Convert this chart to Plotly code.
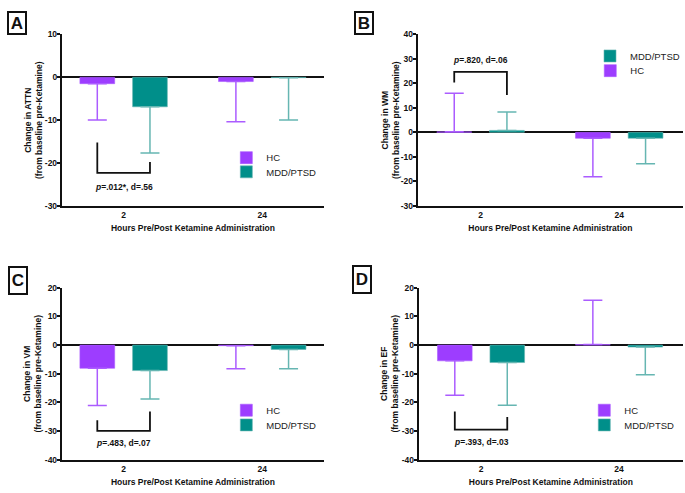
import plotly.graph_objects as go

# ---------------- data ----------------
hours = ["2", "24"]
groups = ["HC", "MDD/PTSD"]
panel_letters = ["A", "B", "C", "D"]
measures = ["ATTN", "WM", "VM", "EF"]

attn_hc = [-1.5, -1.0]
attn_mdd = [-6.9, -0.1]
attn_hc_err = [8.5, 9.4]
attn_mdd_err = [10.8, 9.9]

wm_hc = [0.2, -2.4]
wm_mdd = [0.8, -2.4]
wm_hc_err = [15.8, 15.7]
wm_mdd_err = [7.5, 10.4]

vm_hc = [-8.1, -0.2]
vm_mdd = [-8.9, -1.5]
vm_hc_err = [13.0, 8.1]
vm_mdd_err = [9.9, 6.8]

ef_hc = [-5.5, 0.2]
ef_mdd = [-6.1, -0.7]
ef_hc_err = [12.0, 15.5]
ef_mdd_err = [14.9, 9.7]

y_ranges = [[-30, 10], [-30, 40], [-40, 20], [-40, 20]]

stat_labels = ["<i>p</i>=.012*, d=.56", "<i>p</i>=.820, d=.06",
               "<i>p</i>=.483, d=.07", "<i>p</i>=.393, d=.03"]
# bracket: left-end y, right-end y, bar y, label y
brackets = [[-15.2, -19.8, -22.3, -25.5],
            [20.4, 15.3, 24.7, 29.6],
            [-26.3, -23.2, -30.0, -34.2],
            [-23.2, -25.1, -29.5, -33.8]]

# ---------------- style ----------------
HC_COL = "#9d3dff"
MDD_COL = "#008f8a"
HC_ERR = "#ab5cff"
MDD_ERR = "#66b6b2"
FONT = "Liberation Sans, Arial, sans-serif"
W, H = 685, 493

x_domains = [[62 / W, 325 / W], [419 / W, 1.0], [62 / W, 325 / W], [420 / W, 1.0]]
y_top = [1 - 205 / H, 1 - 30 / H]
y_bot = [1 - 464 / H, 1 - 288.7 / H]
y_domains = [y_top, y_top, y_bot, y_bot]
x_ranges = [[-0.446, 1.446], [-0.453, 1.46], [-0.446, 1.446], [-0.451, 1.463]]
ytitle_x = [33, 391, 33, 391]  # pixel x-centre of the two-line y titles
OFF = 0.19  # half distance between grouped bar centres (bargap 0.24)

panel_data = [
    (attn_hc, attn_mdd, attn_hc_err, attn_mdd_err),
    (wm_hc, wm_mdd, wm_hc_err, wm_mdd_err),
    (vm_hc, vm_mdd, vm_hc_err, vm_mdd_err),
    (ef_hc, ef_mdd, ef_hc_err, ef_mdd_err),
]

# legend item pixel positions (icon left, item centre y) per panel, per group
legend_pos = [
    {"HC": (244, 154.5), "MDD/PTSD": (244, 169)},
    {"HC": (609, 65.7), "MDD/PTSD": (609, 50.7)},
    {"HC": (244, 412.3), "MDD/PTSD": (244, 427.3)},
    {"HC": (603, 412.3), "MDD/PTSD": (603, 427.3)},
]

fig = go.Figure()
layout = {}
annotations = []
shapes = []
legend_n = 0

for i, (hc, mdd, hc_e, mdd_e) in enumerate(panel_data):
    n = i + 1
    xa = "x" if n == 1 else f"x{n}"
    ya = "y" if n == 1 else f"y{n}"
    xkey = "xaxis" if n == 1 else f"xaxis{n}"
    ykey = "yaxis" if n == 1 else f"yaxis{n}"
    xvals = list(range(len(hours)))

    for g, vals, errs, col, ecol in [("HC", hc, hc_e, HC_COL, HC_ERR),
                                     ("MDD/PTSD", mdd, mdd_e, MDD_COL, MDD_ERR)]:
        legend_n += 1
        lname = "legend" if legend_n == 1 else f"legend{legend_n}"
        up = [e if v >= 0 else 0 for v, e in zip(vals, errs)]
        down = [e if v < 0 else 0 for v, e in zip(vals, errs)]
        fig.add_trace(go.Bar(
            x=xvals, y=vals, name=g, xaxis=xa, yaxis=ya, legend=lname,
            offsetgroup=g,
            marker=dict(color=col, line=dict(color=ecol, width=0.6)),
            error_y=dict(type="data", symmetric=False, array=up, arrayminus=down,
                         color=ecol, thickness=1.5, width=9.5),
        ))
        lx, ly = legend_pos[i][g]
        layout[lname] = dict(
            x=(lx - 17) / W, xanchor="left", y=1 - (ly - 13.5) / H, yanchor="top",
            font=dict(family=FONT, size=9.5, color="#222"),
            bgcolor="rgba(0,0,0,0)", borderwidth=0, itemwidth=30,
        )

    yr = y_ranges[i]
    ytick_vals = list(range(yr[0], yr[1] + 1, 10))
    layout[xkey] = dict(
        domain=x_domains[i], anchor=ya, range=x_ranges[i],
        tickvals=xvals, ticktext=hours, ticks="",
        showline=True, linecolor="#111", linewidth=2, showgrid=False, zeroline=False,
        tickfont=dict(family=FONT, size=8.5, color="#111", weight="bold"),
        title=dict(text="Hours Pre/Post Ketamine Administration", standoff=6,
                   font=dict(family=FONT, size=8.5, color="#111", weight="bold")),
    )
    layout[ykey] = dict(
        domain=y_domains[i], anchor=xa, range=yr,
        tickvals=ytick_vals, ticktext=[str(v) for v in ytick_vals],
        ticks="outside", ticklen=3, tickwidth=1.5, tickcolor="#111",
        ticklabelstandoff=-2,
        showline=True, linecolor="#111", linewidth=2, showgrid=False,
        zeroline=True, zerolinecolor="#111", zerolinewidth=2,
        tickfont=dict(family=FONT, size=8.5, color="#111", weight="bold"),
    )
    # y-axis title (two lines, rotated)
    annotations.append(dict(
        x=ytitle_x[i] / W, y=sum(y_domains[i]) / 2, xref="paper", yref="paper",
        xanchor="center", yanchor="middle", textangle=-90, showarrow=False,
        text=f"Change in {measures[i]}<br>(from baseline pre-Ketamine)",
        font=dict(family=FONT, size=8.5, color="#111", weight="bold")))

    # significance bracket between the two bars at the first time point
    lt, rt, bar_y, txt_y = brackets[i]
    x0, x1 = xvals[0] - OFF, xvals[0] + OFF
    shapes.append(dict(type="path", xref=xa, yref=ya,
                       path=f"M {x0},{lt} L {x0},{bar_y} L {x1},{bar_y} L {x1},{rt}",
                       line=dict(color="#111", width=1.8)))
    annotations.append(dict(x=xvals[0], y=txt_y, xref=xa, yref=ya, text=stat_labels[i],
                            showarrow=False,
                            font=dict(family=FONT, size=8.5, color="#111", weight="bold")))

# boxed panel letters
letter_pos = [(17.5, 18, 20), (365, 18.5, 20), (18, 280.7, 25), (363, 280.5, 25)]
for letter, (px, py, hgt) in zip(panel_letters, letter_pos):
    annotations.append(dict(x=px / W, y=1 - py / H, xref="paper", yref="paper",
                            xanchor="center", yanchor="middle",
                            text=f"<b>{letter}</b>", showarrow=False,
                            width=16, height=hgt, borderpad=0,
                            bordercolor="#111", borderwidth=2, bgcolor="white",
                            font=dict(family=FONT, size=17, color="#111")))

fig.update_layout(
    width=W, height=H, margin=dict(l=0, r=0, t=0, b=0),
    paper_bgcolor="white", plot_bgcolor="white",
    barmode="group", bargap=0.24, bargroupgap=0.34,
    showlegend=True, annotations=annotations, shapes=shapes,
    **layout,
)

fig.write_html("out.html", config={"displayModeBar": False},
               post_script="document.body.style.margin='0px';document.body.style.overflow='hidden';")
